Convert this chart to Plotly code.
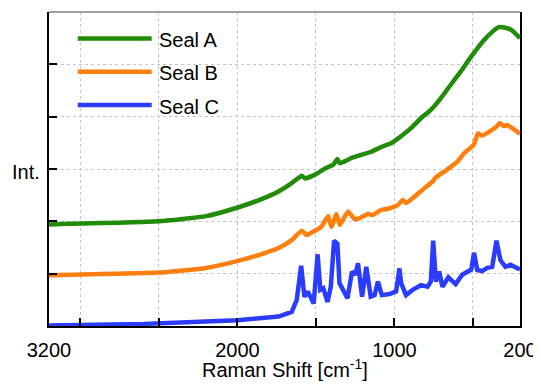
import plotly.graph_objects as go

# Raman shift (cm^-1) and intensity (arbitrary, offset) per series
seal_a_x = [3200, 2504, 2199, 2003, 1850, 1738, 1654, 1590, 1569, 1506, 1442, 1390, 1363, 1348,
            1274, 1211, 1147, 1084, 1021, 978, 894, 831, 768, 705, 641, 578, 525, 483, 430, 377,
            335, 293, 251, 200]
seal_a_y = [1.94, 2.00, 2.10, 2.26, 2.42, 2.57, 2.73, 2.87, 2.82, 2.89, 3.01, 3.08, 3.19, 3.11,
            3.21, 3.27, 3.33, 3.42, 3.49, 3.58, 3.78, 3.97, 4.13, 4.35, 4.61, 4.86, 5.09, 5.26, 5.46, 5.62,
            5.71, 5.70, 5.65, 5.50]

seal_b_x = [3200, 2504, 2199, 2003, 1850, 1738, 1654, 1590, 1559, 1506, 1464, 1422, 1401, 1369, 1348,
            1295, 1253, 1221, 1168, 1137, 1084, 1042, 978, 947, 926, 873, 810, 757, 736, 673,
            599, 556, 493, 468, 441, 388, 346, 329, 303, 282, 240, 200]
seal_b_y = [0.97, 1.02, 1.11, 1.24, 1.37, 1.49, 1.64, 1.82, 1.74, 1.82, 1.90, 2.10, 1.89, 2.14, 1.93,
            2.19, 2.04, 2.06, 2.14, 2.12, 2.22, 2.24, 2.31, 2.41, 2.35, 2.47, 2.63, 2.76, 2.84, 2.97,
            3.14, 3.30, 3.47, 3.68, 3.64, 3.73, 3.82, 3.88, 3.82, 3.84, 3.76, 3.67]

seal_c_x = [3200, 2600, 2000, 1800, 1738, 1654, 1622, 1594, 1573, 1552, 1535, 1514, 1489, 1472, 1453,
            1426, 1405, 1384, 1363, 1350, 1327, 1299, 1270, 1249, 1232, 1206, 1179, 1151, 1126, 1105,
            1080, 1031, 989, 968, 957, 926, 884, 831, 789, 768, 753, 736, 715, 694, 656, 610, 568,
            525, 510, 493, 472, 441, 409, 377, 350, 325, 293, 261, 229, 200]
seal_c_y = [0.01, 0.04, 0.11, 0.15, 0.18, 0.27, 0.50, 1.15, 0.56, 0.66, 0.57, 0.43, 1.37, 0.69, 0.72,
            0.46, 0.75, 1.63, 1.57, 0.82, 0.69, 0.53, 1.04, 0.98, 1.20, 0.56, 1.13, 0.56, 0.59, 0.85,
            0.59, 0.61, 0.66, 1.10, 0.82, 0.59, 0.69, 0.78, 0.75, 0.85, 1.63, 0.85, 1.04, 0.75, 0.93, 0.80, 0.98,
            1.07, 1.08, 1.40, 1.07, 1.05, 1.11, 1.13, 1.63, 1.26, 1.13, 1.17, 1.13, 1.08]

series_names = ["Seal A", "Seal B", "Seal C"]
series_colors = ["#218c0a", "#ff7f0e", "#2a3cff"]
series_shapes = ["spline", "spline", "linear"]

x_tick_vals = [3200, 2000, 1000, 200]
x_tick_text = ["3200", "2000", "1000", "200"]
x_grid_vals = [3000, 2500, 2000, 1500, 1000, 500]
y_grid_vals = [1, 2, 3, 4, 5]

FONT = "Liberation Sans, Arial, sans-serif"

fig = go.Figure()
for name, xs, ys, col, shp in zip(series_names, [seal_a_x, seal_b_x, seal_c_x],
                                  [seal_a_y, seal_b_y, seal_c_y], series_colors, series_shapes):
    line = dict(color=col, width=4.5, shape=shp)
    if shp == "spline":
        line["smoothing"] = 0.4
    fig.add_trace(go.Scatter(x=xs, y=ys, mode="lines", name=name, line=line, showlegend=False))

# page body has an 8px margin, so the figure is drawn 8px smaller and offset
fig.update_layout(
    width=533, height=377,
    margin=dict(l=41, r=18, t=4, b=59),
    paper_bgcolor="white", plot_bgcolor="white",
    font=dict(family=FONT, size=20, color="black"),
)
fig.update_xaxes(
    range=[3200, 200], autorange=False,
    tickmode="array", tickvals=x_tick_vals, ticktext=x_tick_text,
    ticks="inside", ticklen=8, tickcolor="black", tickwidth=1.5,
    ticklabelstandoff=5,
    showgrid=False, zeroline=False,
    showline=True, linecolor="black", linewidth=1.5, mirror=False,
    tickfont=dict(size=20, family=FONT),
    minor=dict(tickmode="array", tickvals=x_grid_vals, ticks="inside", ticklen=8,
               tickcolor="black", tickwidth=1.5,
               showgrid=True, gridcolor="#c4c4c4", griddash="dot", gridwidth=1),
)
fig.update_yaxes(
    range=[0, 6], autorange=False,
    tickmode="array", tickvals=y_grid_vals,
    ticks="inside", ticklen=8, tickcolor="black", tickwidth=1.5,
    showgrid=True, gridcolor="#c4c4c4", griddash="dot", gridwidth=1,
    zeroline=False, showticklabels=False,
    showline=True, linecolor="black", linewidth=1.5, mirror=True,
)
# top border in gray
fig.add_shape(type="line", xref="paper", yref="paper", x0=0, x1=1, y0=1, y1=1,
              line=dict(color="#808080", width=1.5))

# manual legend
leg_line_y = [0.916, 0.810, 0.704]
leg_text_y = [0.911, 0.805, 0.699]
for name, col, ly, ty in zip(series_names, series_colors, leg_line_y, leg_text_y):
    fig.add_shape(type="line", xref="paper", yref="paper", x0=0.061, x1=0.218, y0=ly, y1=ly,
                  line=dict(color=col, width=4.5))
    fig.add_annotation(xref="paper", yref="paper", x=0.230, y=ty, text=name, showarrow=False,
                       xanchor="left", yanchor="middle", font=dict(size=20, family=FONT))

fig.add_annotation(xref="paper", yref="paper", x=-0.0485, y=0.49, text="Int.", showarrow=False,
                   xanchor="center", yanchor="middle", font=dict(size=20, family=FONT))
fig.add_annotation(xref="paper", yref="paper", x=0.5, y=-0.182,
                   text="Raman Shift [cm<sup>-1</sup>]", showarrow=False,
                   xanchor="center", yanchor="bottom", font=dict(size=20, family=FONT))

fig.write_html("out.html")
